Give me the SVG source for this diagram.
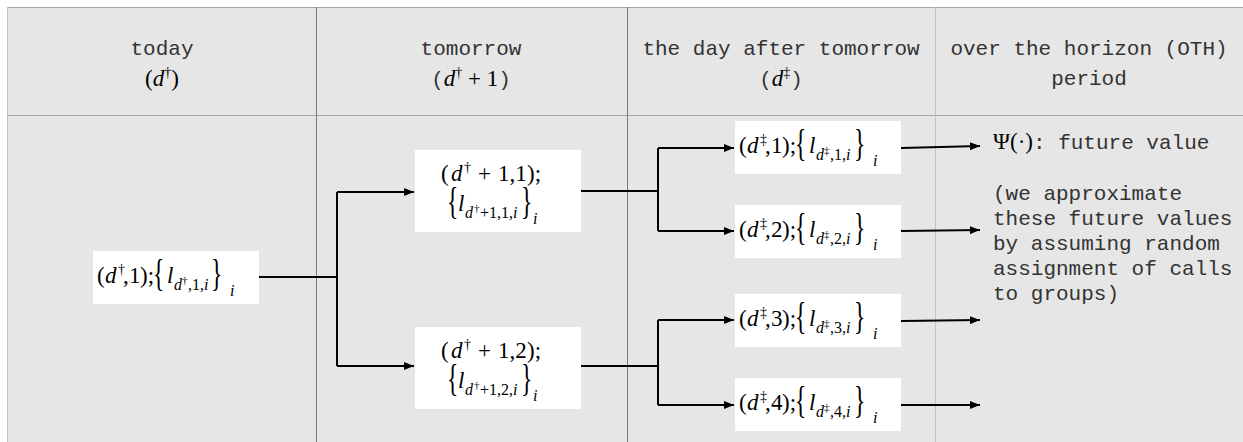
<svg xmlns="http://www.w3.org/2000/svg" width="1243" height="442" viewBox="0 0 1243 442">
  <defs>
    <style>
      .bg { fill: #e6e6e6; }
      .rule-mid { stroke: #a6a6a6; stroke-width: 1; }
      .rule-soft { stroke: #c4c4c4; stroke-width: 1; }
      .rule-dark { stroke: #7a7a7a; stroke-width: 1; }
      .node rect { fill: #ffffff; }
      .m { font-family: "Liberation Serif", "Times New Roman", serif; font-size: 23px; fill: #000; }
      .it { font-style: italic; }
      .sup { font-size: 14px; }
      .sub { font-size: 16px; }
      .ss { font-size: 11px; }
      .brace { font-family: "Liberation Serif", "Times New Roman", serif; font-size: 38px; fill: #000; }
      .mono { font-family: "Liberation Mono", "Courier New", monospace; font-size: 21px; fill: #333; }
      .conn { stroke: #000; stroke-width: 2; fill: none; }
    </style>
    <marker id="ah" viewBox="0 0 10 8" refX="10" refY="4" markerWidth="10" markerHeight="8" markerUnits="userSpaceOnUse" orient="auto">
      <path d="M0,0 L10,4 L0,8 z" fill="#000"/>
    </marker>
  </defs>

  <!-- table background and rules -->
  <g id="table">
    <rect class="bg" x="7" y="7" width="1236" height="435"/>
    <line class="rule-mid" x1="7" y1="7.5" x2="1243" y2="7.5"/>
    <line class="rule-soft" x1="7.5" y1="7" x2="7.5" y2="442"/>
    <line class="rule-mid" x1="7" y1="115.5" x2="1243" y2="115.5"/>
    <line class="rule-dark" x1="316.5" y1="7" x2="316.5" y2="442"/>
    <line class="rule-dark" x1="627.5" y1="7" x2="627.5" y2="442"/>
    <line class="rule-soft" x1="935.5" y1="7" x2="935.5" y2="442"/>
  </g>

  <!-- column headers -->
  <g id="headers">
    <text class="mono" x="162" y="55" text-anchor="middle">today</text>
    <text class="m" x="162" y="86" text-anchor="middle"><tspan>(</tspan><tspan class="it">d</tspan><tspan class="sup" dy="-9">†</tspan><tspan dy="9">)</tspan></text>

    <text class="mono" x="471" y="55" text-anchor="middle">tomorrow</text>
    <text class="m" x="471" y="86" text-anchor="middle"><tspan class="mono">(</tspan><tspan class="it">d</tspan><tspan class="sup" dy="-9">†</tspan><tspan dy="9"> + 1</tspan><tspan class="mono">)</tspan></text>

    <text class="mono" x="781" y="55" text-anchor="middle">the day after tomorrow</text>
    <text class="m" x="781" y="86" text-anchor="middle"><tspan class="mono">(</tspan><tspan class="it">d</tspan><tspan class="sup" dy="-9">‡</tspan><tspan class="mono" dy="9">)</tspan></text>

    <text class="mono" x="1089" y="55" text-anchor="middle">over the horizon (OTH)</text>
    <text class="mono" x="1089" y="85" text-anchor="middle">period</text>
  </g>

  <!-- connectors -->
  <g id="connectors" class="conn">
    <path d="M259,277 H337 M337,192 V366"/>
    <path d="M337,192 H414" marker-end="url(#ah)"/>
    <path d="M337,366 H414" marker-end="url(#ah)"/>

    <path d="M581,191 H658 M658,148 V231"/>
    <path d="M658,148 H734" marker-end="url(#ah)"/>
    <path d="M658,231 H734" marker-end="url(#ah)"/>

    <path d="M581,366 H658 M658,320 V405"/>
    <path d="M658,320 H734" marker-end="url(#ah)"/>
    <path d="M658,405 H734" marker-end="url(#ah)"/>

    <path d="M901,148 L980,146" marker-end="url(#ah)"/>
    <path d="M901,231 L980,230" marker-end="url(#ah)"/>
    <path d="M901,321 L980,320" marker-end="url(#ah)"/>
    <path d="M901,405 L980,405" marker-end="url(#ah)"/>
  </g>

  <!-- today: (d†,1) -->
  <g id="node-today" class="node">
    <rect x="93" y="251" width="166" height="53"/>
    <text class="m"><tspan x="97" y="283">(</tspan><tspan x="105" class="it">d</tspan><tspan x="118" y="274" class="sup">†</tspan><tspan x="123" y="283">,</tspan><tspan x="129">1</tspan><tspan x="140">);</tspan><tspan x="167" class="it">l</tspan><tspan x="174" y="290" class="it sub">d</tspan><tspan x="182" y="284" class="ss">†</tspan><tspan x="188" y="290" class="sub">,1,</tspan><tspan class="it sub">i</tspan><tspan x="230" y="296" class="it sub">i</tspan></text>
    <text class="brace" transform="translate(153,286) scale(0.62,1)">{</text>
    <text class="brace" transform="translate(211,286) scale(0.62,1)">}</text>
  </g>

  <!-- tomorrow: (d†+1,1) -->
  <g id="node-tomorrow-1" class="node">
    <rect x="415" y="150" width="166" height="82"/>
    <text class="m"><tspan x="441" y="181">(</tspan><tspan x="451" class="it">d</tspan><tspan x="464" y="172" class="sup">†</tspan><tspan x="478" y="181">+</tspan><tspan x="498">1,1</tspan><tspan x="527">);</tspan></text>
    <text class="m"><tspan x="458" y="211" class="it">l</tspan><tspan x="465" y="218" class="it sub">d</tspan><tspan x="474" y="212" class="ss">†</tspan><tspan x="480" y="218" class="sub">+1,1,</tspan><tspan class="it sub">i</tspan><tspan x="533" y="224" class="it sub">i</tspan></text>
    <text class="brace" transform="translate(447,214) scale(0.62,1)">{</text>
    <text class="brace" transform="translate(521,214) scale(0.62,1)">}</text>
  </g>

  <!-- tomorrow: (d†+1,2) -->
  <g id="node-tomorrow-2" class="node">
    <rect x="415" y="327" width="166" height="82"/>
    <text class="m"><tspan x="441" y="358">(</tspan><tspan x="451" class="it">d</tspan><tspan x="464" y="349" class="sup">†</tspan><tspan x="478" y="358">+</tspan><tspan x="498">1,2</tspan><tspan x="527">);</tspan></text>
    <text class="m"><tspan x="458" y="388" class="it">l</tspan><tspan x="465" y="395" class="it sub">d</tspan><tspan x="474" y="389" class="ss">†</tspan><tspan x="480" y="395" class="sub">+1,2,</tspan><tspan class="it sub">i</tspan><tspan x="533" y="401" class="it sub">i</tspan></text>
    <text class="brace" transform="translate(447,391) scale(0.62,1)">{</text>
    <text class="brace" transform="translate(521,391) scale(0.62,1)">}</text>
  </g>

  <!-- day after tomorrow: (d‡,1) .. (d‡,4) -->
  <g id="node-dat-1" class="node">
    <rect x="735" y="121" width="166" height="53"/>
    <text class="m"><tspan x="739" y="153">(</tspan><tspan x="747" class="it">d</tspan><tspan x="760" y="144" class="sup">‡</tspan><tspan x="765" y="153">,</tspan><tspan x="771">1</tspan><tspan x="782">);</tspan><tspan x="809" class="it">l</tspan><tspan x="816" y="160" class="it sub">d</tspan><tspan x="824" y="154" class="ss">‡</tspan><tspan x="830" y="160" class="sub">,1,</tspan><tspan class="it sub">i</tspan><tspan x="873" y="166" class="it sub">i</tspan></text>
    <text class="brace" transform="translate(795,156) scale(0.62,1)">{</text>
    <text class="brace" transform="translate(854,156) scale(0.62,1)">}</text>
  </g>

  <g id="node-dat-2" class="node">
    <rect x="735" y="205" width="166" height="53"/>
    <text class="m"><tspan x="739" y="237">(</tspan><tspan x="747" class="it">d</tspan><tspan x="760" y="228" class="sup">‡</tspan><tspan x="765" y="237">,</tspan><tspan x="771">2</tspan><tspan x="782">);</tspan><tspan x="809" class="it">l</tspan><tspan x="816" y="244" class="it sub">d</tspan><tspan x="824" y="238" class="ss">‡</tspan><tspan x="830" y="244" class="sub">,2,</tspan><tspan class="it sub">i</tspan><tspan x="873" y="250" class="it sub">i</tspan></text>
    <text class="brace" transform="translate(795,240) scale(0.62,1)">{</text>
    <text class="brace" transform="translate(854,240) scale(0.62,1)">}</text>
  </g>

  <g id="node-dat-3" class="node">
    <rect x="735" y="294" width="166" height="53"/>
    <text class="m"><tspan x="739" y="326">(</tspan><tspan x="747" class="it">d</tspan><tspan x="760" y="317" class="sup">‡</tspan><tspan x="765" y="326">,</tspan><tspan x="771">3</tspan><tspan x="782">);</tspan><tspan x="809" class="it">l</tspan><tspan x="816" y="333" class="it sub">d</tspan><tspan x="824" y="327" class="ss">‡</tspan><tspan x="830" y="333" class="sub">,3,</tspan><tspan class="it sub">i</tspan><tspan x="873" y="339" class="it sub">i</tspan></text>
    <text class="brace" transform="translate(795,329) scale(0.62,1)">{</text>
    <text class="brace" transform="translate(854,329) scale(0.62,1)">}</text>
  </g>

  <g id="node-dat-4" class="node">
    <rect x="735" y="378" width="166" height="53"/>
    <text class="m"><tspan x="739" y="410">(</tspan><tspan x="747" class="it">d</tspan><tspan x="760" y="401" class="sup">‡</tspan><tspan x="765" y="410">,</tspan><tspan x="771">4</tspan><tspan x="782">);</tspan><tspan x="809" class="it">l</tspan><tspan x="816" y="417" class="it sub">d</tspan><tspan x="824" y="411" class="ss">‡</tspan><tspan x="830" y="417" class="sub">,4,</tspan><tspan class="it sub">i</tspan><tspan x="873" y="423" class="it sub">i</tspan></text>
    <text class="brace" transform="translate(795,413) scale(0.62,1)">{</text>
    <text class="brace" transform="translate(854,413) scale(0.62,1)">}</text>
  </g>

  <!-- over-the-horizon column notes -->
  <g id="oth-notes">
    <text y="149"><tspan class="m" x="993">Ψ(·)</tspan><tspan class="mono">: future value</tspan></text>
    <text class="mono" x="993" y="200">(we approximate</text>
    <text class="mono" x="993" y="225">these future values</text>
    <text class="mono" x="993" y="250">by assuming random</text>
    <text class="mono" x="993" y="275">assignment of calls</text>
    <text class="mono" x="993" y="300">to groups)</text>
  </g>
</svg>
